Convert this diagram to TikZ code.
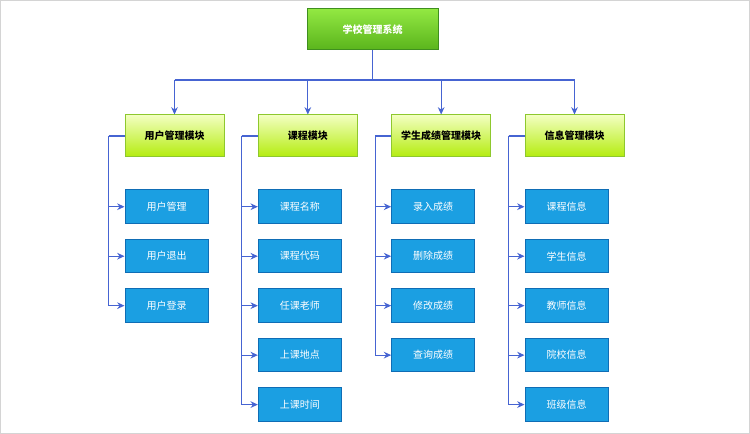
\documentclass[tikz,border=0pt]{standalone}
\usepackage{fontspec}
\newfontfamily\cjk{Noto Sans CJK SC}
\usetikzlibrary{positioning,arrows.meta,calc}
\definecolor{linkblue}{HTML}{4664D2}
\definecolor{sysline}{HTML}{3F8F1F}
\definecolor{systop}{HTML}{92E842}
\definecolor{sysbot}{HTML}{5AB41C}
\definecolor{modline}{HTML}{8EC82E}
\definecolor{modtop}{HTML}{F2FFC0}
\definecolor{modbot}{HTML}{B4EC0E}
\definecolor{itemfill}{HTML}{1B9FE2}
\definecolor{itemline}{HTML}{0F6DB5}
\definecolor{frame}{HTML}{D4D4D4}
\tikzset{
  sysbox/.style={draw=sysline, line width=0.75pt, top color=systop, bottom color=sysbot,
    minimum width=98.25pt, minimum height=30.75pt, text=white,
    font=\cjk\bfseries\fontsize{7.5}{9}\selectfont},
  modbox/.style={draw=modline, line width=0.75pt, top color=modtop, bottom color=modbot,
    minimum width=74.25pt, minimum height=31.5pt, text=black,
    font=\cjk\bfseries\fontsize{7.5}{9}\selectfont},
  itembox/.style={draw=itemline, line width=0.75pt, fill=itemfill,
    minimum width=62.25pt, minimum height=25.1pt, text=white,
    font=\cjk\fontsize{7.5}{9}\selectfont},
  link/.style={draw=linkblue, line width=0.8pt},
  arr/.style={link, -{Stealth[length=5.5pt,width=5pt]}},
}
\begin{document}
\begin{tikzpicture}[x=0.75pt,y=-0.75pt]
		% frame
		\draw[frame, line width=0.75pt, fill=white] (0.5,0.5) rectangle (749.5,433.5) ;
		\useasboundingbox (0,0) rectangle (750,434) ;
		% root
		\node[sysbox] (sys) at (372.5,29.5) {学校管理系统} ;
		%%%%% modules
		\node[modbox] (user) at (174.5,136) {用户管理模块} ;
		\node[modbox, right=25pt of user] (course) {课程模块} ;
		\node[modbox, right=25pt of course] (score) {学生成绩管理模块} ;
		\node[modbox, right=25pt of score] (info) {信息管理模块} ;
		%%%%% user items
		\node[itembox, below=24pt of user.south west, anchor=north west] (u1) {用户管理} ;
		\node[itembox, below=11.25pt of u1] (u2) {用户退出} ;
		\node[itembox, below=11.25pt of u2] (u3) {用户登录} ;
		%%%%% course items
		\node[itembox, below=24pt of course.south west, anchor=north west] (c1) {课程名称} ;
		\node[itembox, below=11.25pt of c1] (c2) {课程代码} ;
		\node[itembox, below=11.25pt of c2] (c3) {任课老师} ;
		\node[itembox, below=11.25pt of c3] (c4) {上课地点} ;
		\node[itembox, below=11.25pt of c4] (c5) {上课时间} ;
		%%%%% score items
		\node[itembox, below=24pt of score.south west, anchor=north west] (s1) {录入成绩} ;
		\node[itembox, below=11.25pt of s1] (s2) {删除成绩} ;
		\node[itembox, below=11.25pt of s2] (s3) {修改成绩} ;
		\node[itembox, below=11.25pt of s3] (s4) {查询成绩} ;
		%%%%% info items
		\node[itembox, below=24pt of info.south west, anchor=north west] (i1) {课程信息} ;
		\node[itembox, below=11.25pt of i1] (i2) {学生信息} ;
		\node[itembox, below=11.25pt of i2] (i3) {教师信息} ;
		\node[itembox, below=11.25pt of i3] (i4) {院校信息} ;
		\node[itembox, below=11.25pt of i4] (i5) {班级信息} ;
		% bus and branch points
		\coordinate (bus) at (372.5,80) ;
		\coordinate[left=12pt of user.west] (ubr) ;
		\coordinate[left=12pt of course.west] (cbr) ;
		\coordinate[left=12pt of score.west] (sbr) ;
		\coordinate[left=12pt of info.west] (ibr) ;
		% root to modules
		\draw[link] (sys) -- (bus) ;
		\draw[link] (bus -| user) -- (bus -| info) ;
		\draw[arr] (bus -| user) -- (user) ;
		\draw[arr] (bus -| course) -- (course) ;
		\draw[arr] (bus -| score) -- (score) ;
		\draw[arr] (bus -| info) -- (info) ;
		% modules to items
		\draw[link] (user.west) -- (ubr) ;
		\draw[arr] (ubr) |- (u1) ;
		\draw[arr] (ubr) |- (u2) ;
		\draw[arr] (ubr) |- (u3) ;
		\draw[link] (course.west) -- (cbr) ;
		\draw[arr] (cbr) |- (c1) ;
		\draw[arr] (cbr) |- (c2) ;
		\draw[arr] (cbr) |- (c3) ;
		\draw[arr] (cbr) |- (c4) ;
		\draw[arr] (cbr) |- (c5) ;
		\draw[link] (score.west) -- (sbr) ;
		\draw[arr] (sbr) |- (s1) ;
		\draw[arr] (sbr) |- (s2) ;
		\draw[arr] (sbr) |- (s3) ;
		\draw[arr] (sbr) |- (s4) ;
		\draw[link] (info.west) -- (ibr) ;
		\draw[arr] (ibr) |- (i1) ;
		\draw[arr] (ibr) |- (i2) ;
		\draw[arr] (ibr) |- (i3) ;
		\draw[arr] (ibr) |- (i4) ;
		\draw[arr] (ibr) |- (i5) ;
\end{tikzpicture}
\end{document}
